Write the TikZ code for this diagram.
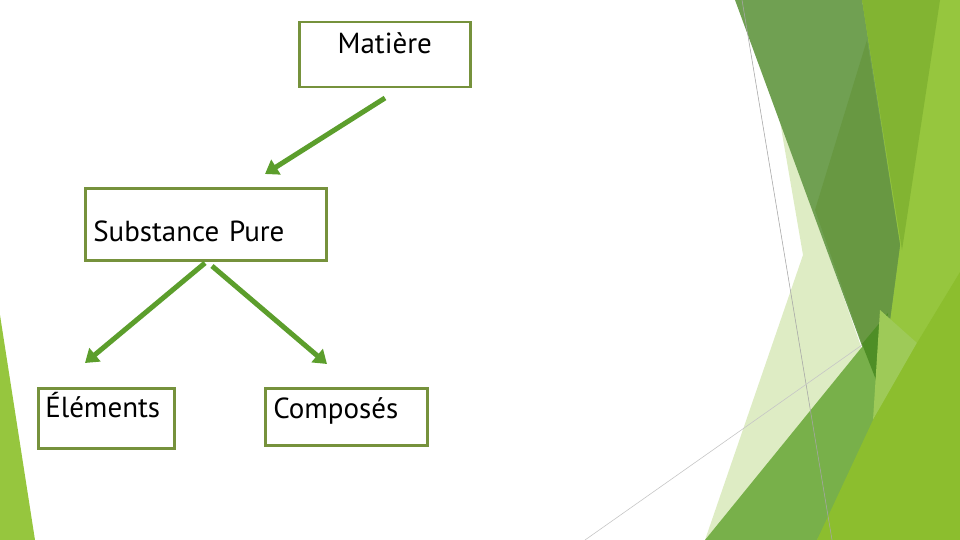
\documentclass[tikz,border=0pt]{standalone}
\usepackage{fontspec}
\setmainfont{PT Sans}
\usepackage{tikz}
\usetikzlibrary{arrows.meta}

\definecolor{boxcol}{RGB}{118,146,60}
\definecolor{arrcol}{RGB}{92,158,44}
\definecolor{bgpale}{RGB}{222,236,196}
\definecolor{bgdarkA}{RGB}{112,160,82}
\definecolor{bgdarkB}{RGB}{104,152,66}
\definecolor{bgolive}{RGB}{130,180,50}
\definecolor{bglime}{RGB}{150,198,62}
\definecolor{bgmid}{RGB}{120,176,74}
\definecolor{bgdeep}{RGB}{78,142,38}
\definecolor{bglight}{RGB}{158,202,88}
\definecolor{bgyellow}{RGB}{140,190,46}

\begin{document}
\begin{tikzpicture}[x=1pt, y=-1pt,
    box/.style={draw=boxcol, line width=2.5pt, inner sep=0pt, anchor=north west,
        font=\fontsize{29}{33}\selectfont},
    link/.style={draw=arrcol, line width=5pt, -{Triangle[width=17pt,length=13pt]}}]
		\useasboundingbox (0,0) rectangle (960,540);

		\fill[bglime] (862,0) -- (960,0) -- (960,540) -- (817,540) -- (888,315) -- cycle;
		\fill[bgpale] (778,110) -- (803,255) -- (705,540) -- (765,540) -- (878,395) -- cycle;
		\fill[bgdarkA] (735,0) -- (862,0) -- (900,245) -- (880,395) -- cycle;
		\fill[bgdarkB] (867,40) -- (900,245) -- (880,395) -- (815,210) -- cycle;
		\fill[bgolive] (862,0) -- (940,0) -- (902,250) -- cycle;
		\fill[bgmid] (705,540) -- (888,315) -- (877,420) -- (817,540) -- cycle;
		\fill[bgdeep] (862,344) -- (888,313) -- (878,385) -- cycle;
		\fill[bglight] (880,310) -- (917,343) -- (873,420) -- cycle;
		\fill[bgyellow] (817,540) -- (873,420) -- (917,343) -- (960,272) -- (960,540) -- cycle;
		\fill[bglime] (0,315) -- (35,540) -- (0,540) -- cycle;
		\draw[gray!70, line width=0.6pt] (742,0) -- (832,540);
		\draw[gray!45, line width=0.6pt] (585,540) -- (862,345);

		\node[box, text width=171pt, align=center, text height=31pt, text depth=34pt] (M) at (298,21) {Matière};
		\node[box, text width=225pt, inner xsep=8pt, align=left, text height=53pt, text depth=19pt] (SP) at (84,187) {Substance Pure};
		\node[box, text width=122pt, inner xsep=7pt, align=left, text height=29pt, text depth=31pt] (E) at (37,387) {Éléments};
		\node[box, text width=146pt, inner xsep=8pt, align=left, text height=30pt, text depth=27pt] (C) at (264,387) {Composés};

		\coordinate (M1) at (385,98);
		\coordinate (M2) at (265,174);
		\coordinate (S1) at (205,263);
		\coordinate (S2) at (212,266);
		\coordinate (E1) at (85,363);
		\coordinate (C1) at (327,364);

		\draw[link] (M1) -- (M2);
		\draw[link] (S1) -- (E1);
		\draw[link] (S2) -- (C1);
\end{tikzpicture}
\end{document}
